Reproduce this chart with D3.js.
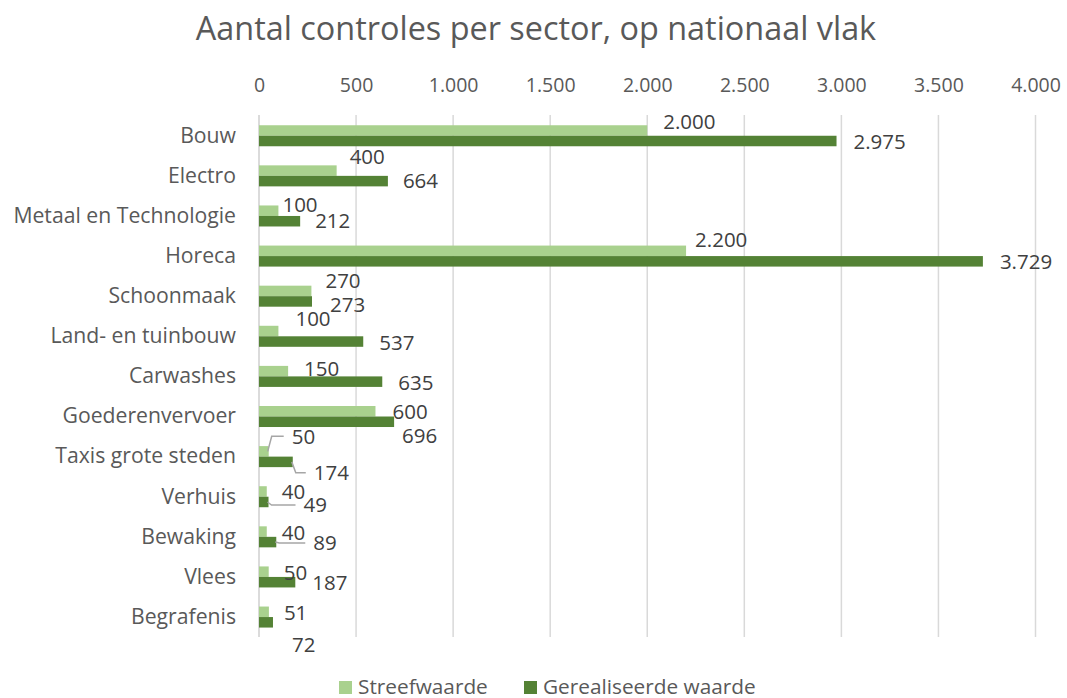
<!DOCTYPE html>
<html>
  <head>
    <meta charset="utf-8"/>
    <style>
      body { margin: 0; background: #fff; }
      text { font-family: "Open Sans", "Noto Sans", sans-serif; }
    </style>
  </head>
  <body>
    <script src="https://d3js.org/d3.v7.min.js"></script>
    <script type="text/javascript">
      var width = 1067, height = 698;

      // data
      var sectors = ["Bouw", "Electro", "Metaal en Technologie", "Horeca", "Schoonmaak",
                     "Land- en tuinbouw", "Carwashes", "Goederenvervoer", "Taxis grote steden",
                     "Verhuis", "Bewaking", "Vlees", "Begrafenis"];
      var streefwaarde = [2000, 400, 100, 2200, 270, 100, 150, 600, 50, 40, 40, 50, 51];
      var gerealiseerd = [2975, 664, 212, 3729, 273, 537, 635, 696, 174, 49, 89, 187, 72];
      var xTicks = [0, 500, 1000, 1500, 2000, 2500, 3000, 3500, 4000];
      var seriesNames = ["Streefwaarde", "Gerealiseerde waarde"];

      // manual label placement (like the moved labels in the original sheet)
      // [dx light, dy light, dx dark, dy dark, leader light, leader dark]
      var labelNudge = [
        [16, -9, 17, 1, 0, 0],
        [13, -14, 15, 0, 0, 0],
        [4, -6, 15, 0, 0, 0],
        [9, -11, 17, 0, 0, 0],
        [14, -10, 18, 3, 0, 0],
        [17, -12, 16, 1, 0, 0],
        [16, -2, 16, 1, 0, 0],
        [17, 1, 8, 14, 0, 0],
        [23, -15, 21, 11, 1, 1],
        [15, 0, 35, 3, 0, 1],
        [15, 1, 37, 1, 0, 1],
        [15, 1, 17, 1, 0, 0],
        [15, 1, 19, 23, 0, 0]
      ];

      var colors = ["#a9d18e", "#548235"];
      var nl = d3.formatLocale({decimal: ",", thousands: ".", grouping: [3], currency: ["€", ""]});
      var fmt = nl.format(",d");

      var svg = d3.select("body")
                  .append("svg")
                  .attr("width", width)
                  .attr("height", height);

      var x = d3.scaleLinear().domain([0, 4000]).range([259, 1035.5]);
      var y = d3.scaleBand().domain(sectors).range([115.7, 637.1])
                .paddingInner(0.476).paddingOuter(0.238);
      var bh = y.bandwidth() / 2;

      svg.append("text")
         .attr("x", 536).attr("y", 40)
         .attr("text-anchor", "middle")
         .attr("font-size", 32.4)
         .attr("fill", "#595959")
         .text("Aantal controles per sector, op nationaal vlak");

      // grid
      svg.append("g").selectAll("line")
         .data(xTicks).enter().append("line")
         .attr("x1", function(d) { return x(d); })
         .attr("x2", function(d) { return x(d); })
         .attr("y1", 115).attr("y2", 637)
         .attr("stroke", "#d9d9d9")
         .attr("stroke-width", 1.5);

      // top axis
      var xAxis = d3.axisTop(x).tickValues(xTicks).tickFormat(fmt).tickSize(0).tickPadding(0);
      var gx = svg.append("g").attr("transform", "translate(0,92)").call(xAxis);
      gx.select(".domain").remove();
      gx.selectAll("text")
        .attr("font-size", 19.5)
        .attr("fill", "#595959")
        .attr("font-family", "Open Sans, sans-serif");

      // category axis
      var yAxis = d3.axisLeft(y).tickSize(0).tickPadding(0);
      var gy = svg.append("g").attr("transform", "translate(236,0)").call(yAxis);
      gy.select(".domain").remove();
      gy.selectAll("text")
        .attr("font-size", 21.2)
        .attr("fill", "#595959")
        .attr("font-family", "Open Sans, sans-serif");

      svg.append("line")
         .attr("x1", x(0)).attr("x2", x(0))
         .attr("y1", 115).attr("y2", 637)
         .attr("stroke", "#d9d9d9").attr("stroke-width", 1.5);

      var series = [streefwaarde, gerealiseerd];
      series.forEach(function(vals, s) {
        svg.append("g").selectAll("rect")
           .data(vals).enter().append("rect")
           .attr("x", x(0))
           .attr("y", function(d, i) { return y(sectors[i]) + s * bh; })
           .attr("width", function(d) { return x(d) - x(0); })
           .attr("height", bh)
           .attr("fill", colors[s]);
      });

      // data labels
      series.forEach(function(vals, s) {
        var g = svg.append("g");
        vals.forEach(function(d, i) {
          var n = labelNudge[i];
          var endX = x(d);
          var cy = y(sectors[i]) + s * bh + bh / 2;
          var lx = endX + n[s * 2];
          var ly = cy + n[s * 2 + 1];
          if (n[4 + s]) {
            g.append("path")
             .attr("d", "M" + (endX - 1) + "," + cy + "L" + (endX + 3) + "," + ly + "L" + (lx - 8) + "," + ly)
             .attr("fill", "none")
             .attr("stroke", "#a6a6a6")
             .attr("stroke-width", 1.5);
          }
          g.append("text")
           .attr("x", lx).attr("y", ly)
           .attr("dy", "0.35em")
           .attr("font-size", 20.5)
           .attr("fill", "#404040")
           .text(fmt(d));
        });
      });

      // legend
      var legendX = [339, 524];
      var lg = svg.append("g");
      seriesNames.forEach(function(name, s) {
        lg.append("rect")
          .attr("x", legendX[s]).attr("y", 681)
          .attr("width", 13).attr("height", 13)
          .attr("fill", colors[s]);
        lg.append("text")
          .attr("x", legendX[s] + 19).attr("y", 687)
          .attr("dy", "0.35em")
          .attr("font-size", 20.8)
          .attr("fill", "#595959")
          .text(name);
      });
    </script>
  </body>
</html>
